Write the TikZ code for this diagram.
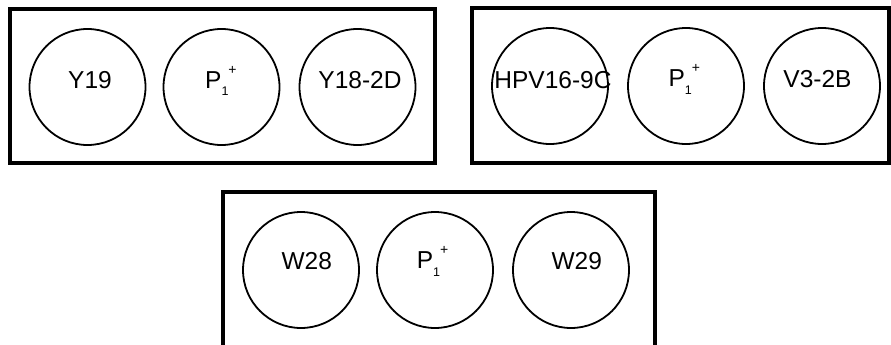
\documentclass[tikz,border=0pt]{standalone}
\usepackage{fontspec}
\setmainfont{Liberation Sans}
% P with subscript 1 and a raised plus
\newcommand{\pone}{P\raisebox{-7.7pt}{\fontsize{12.5}{12.5}\selectfont 1}\raisebox{14pt}{\fontsize{14}{14}\selectfont +}}
\begin{document}
\begin{tikzpicture}[x=1pt,y=-1pt,
  panel/.style={draw,line width=3.2pt},
  well/.style={draw,circle,line width=1.8pt,minimum size=116pt,inner sep=0pt},
  tag/.style={font=\fontsize{24.5}{24.5}\selectfont,inner sep=0pt,anchor=base},
  ptag/.style={font=\fontsize{24.5}{24.5}\selectfont,inner sep=0pt,anchor=base west}]
\useasboundingbox (0,0) rectangle (891,345);
\clip (0,0) rectangle (891,345);
% panels
\draw[panel] (10,9) rectangle (435,163);
\draw[panel] (472,8) rectangle (889,163);
\draw[panel] (223,192) rectangle (655,380);
% wells, top left panel
\node[well] (a1) at (87.5,87) {};
\node[well] (a2) at (221.5,87) {};
\node[well] (a3) at (357.5,87) {};
\node[tag]  (ta1) at ([shift={(2.5,1.3)}]a1.center) {Y19};
\node[ptag] (ta2) at ([shift={(-16.5,1.3)}]a2.center) {\pone};
\node[tag]  (ta3) at ([shift={(2.5,1.3)}]a3.center) {Y18-2D};
% wells, top right panel
\node[well] (b1) at (550,86) {};
\node[well] (b2) at (686,86) {};
\node[well] (b3) at (822,86) {};
\node[tag]  (tb1) at ([shift={(3,2.3)}]b1.center) {HPV16-9C};
\node[ptag] (tb2) at ([shift={(-17.7,0.5)}]b2.center) {\pone};
\node[tag]  (tb3) at ([shift={(-4.5,1.3)}]b3.center) {V3-2B};
% wells, bottom panel
\node[well] (c1) at (301,270) {};
\node[well] (c2) at (435,270) {};
\node[well] (c3) at (571,270) {};
\node[tag]  (tc1) at ([shift={(5.7,-0.7)}]c1.center) {W28};
\node[ptag] (tc2) at ([shift={(-18.3,-1.5)}]c2.center) {\pone};
\node[tag]  (tc3) at ([shift={(5.7,-0.7)}]c3.center) {W29};
\end{tikzpicture}
\end{document}
